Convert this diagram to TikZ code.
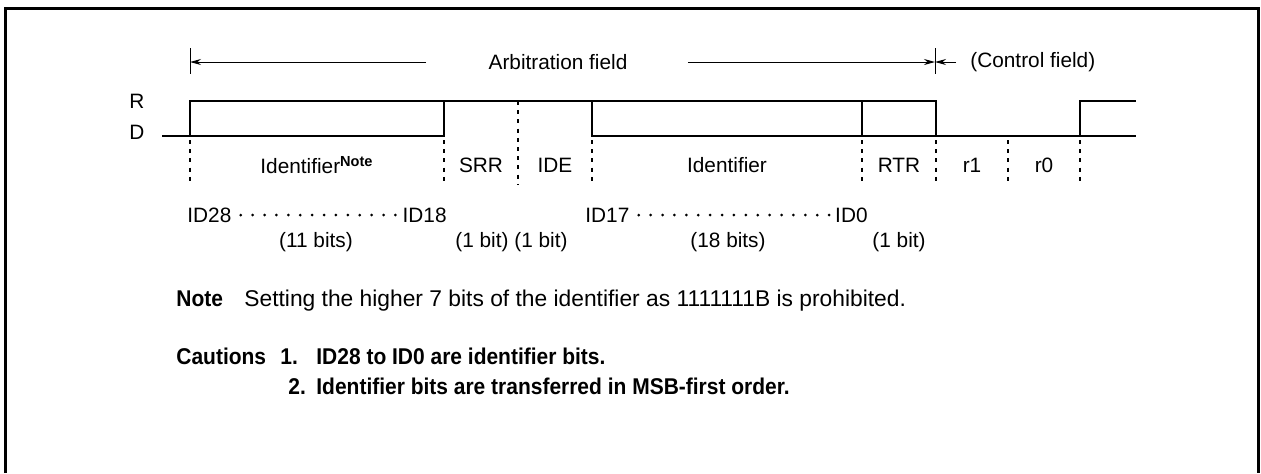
\documentclass[tikz,border=0pt]{standalone}
\usepackage{fontspec}
\setmainfont{Liberation Sans}
\newfontfamily\narrowbf{Liberation Sans Bold}[FakeStretch=0.92]
\usetikzlibrary{arrows.meta,positioning}
\newcommand{\fieldsep}[2]{\draw[sep] (#1,#2)--(#1,185);}

\begin{document}
\begin{tikzpicture}[x=0.5pt,y=-0.5pt,
  txt/.style={font=\fontsize{10.4}{12}\selectfont,inner sep=0pt},
  notetxt/.style={font=\fontsize{11.4}{13}\selectfont,inner sep=0pt,anchor=base west},
  notebf/.style={font=\fontsize{11.4}{13}\narrowbf,inner sep=0pt,anchor=base west},
  wave/.style={line width=1.3pt},
  sep/.style={line width=0.6pt,dash pattern=on 2pt off 2.6pt},
  dim/.style={line width=0.5pt,-{Stealth[length=5.5pt,width=3pt]}},
  leader/.style={line width=1.5pt,line cap=round,dash pattern=on 0pt off 5.95pt,
    shorten <=4.5pt,shorten >=1pt}]
\useasboundingbox (0,0) rectangle (1261,473);
% frame
\draw[line width=1.5pt] (5.5,473) -- (5.5,8.5) -- (1258,8.5) -- (1258,473);
% arbitration field
\coordinate (tl) at (190,62); \coordinate (tr) at (935,62);
\draw[line width=0.5pt] (190,48) -- (190,74) (935,48) -- (935,74);
\node[txt] (arb) at (558,62) {Arbitration field};
\node[txt,anchor=west] (ctl) at (970,62) {(Control field)};
\draw[dim] ([xshift=-31pt]arb.west) -- (tl);
\draw[dim] ([xshift=30pt]arb.east) -- (tr);
\draw[dim] ([xshift=-7pt]ctl.west) -- (tr);
% levels
\node[txt] (lvr) at (137,101) {R};
\node[txt] (lvd) at (137,132) {D};
\draw[wave] (162,136) -- (190,136) -- (190,101) -- (936,101) -- (936,136) -- (1080,136) -- (1080,101) -- (1136,101);
\draw[wave] (190,136) -- (444,136) -- (444,101);
\draw[wave] (592,101) -- (592,136) -- (1136,136);
\draw[wave] (862,101) -- (862,136);
\foreach \x in {190,444,592,862,936,1008,1080} {\fieldsep{\x}{140}}
\fieldsep{518}{101}
% fields
\node[txt] (fid) at (317,165) {Identifier\textsuperscript{\bfseries Note}};
\node[txt] (fsrr) at (481,165) {SRR};
\node[txt] (fide) at (555,165) {IDE};
\node[txt] (fidb) at (727,165) {Identifier};
\node[txt] (frtr) at (899,165) {RTR};
\node[txt] (fr1) at (972,165) {r1};
\node[txt] (fr0) at (1044,165) {r0};
% bit numbers
\node[txt,anchor=west] (id28) at (187,215) {ID28};
\node[txt,anchor=east] (id18) at (447,215) {ID18};
\node[txt,anchor=west] (id17) at (585,215) {ID17};
\node[txt,anchor=east] (id0) at (868,215) {ID0};
\draw[leader] (id28) -- (id18);
\draw[leader] (id17) -- (id0);
\node[txt] (b11) at (316,242) {(11 bits)};
\node[txt] (bsrr) at (482,242) {(1 bit)};
\node[txt] (bide) at (541,242) {(1 bit)};
\node[txt] (b18) at (728,242) {(18 bits)};
\node[txt] (brtr) at (899,242) {(1 bit)};
% note and cautions
\node[notebf] (nhd) at (176,306) {Note};
\node[notetxt] (ntx) at (244,306) {Setting the higher 7 bits of the identifier as 1111111B is prohibited.};
\node[notebf] (chd) at (176,364) {Cautions};
\node[notebf] (c1n) at (280,364) {1.};
\node[notebf] (c1) at (316,364) {ID28 to ID0 are identifier bits.};
\node[notebf] (c2n) at (288,394) {2.};
\node[notebf] (c2) at (316,394) {Identifier bits are transferred in MSB-first order.};
\end{tikzpicture}
\end{document}
